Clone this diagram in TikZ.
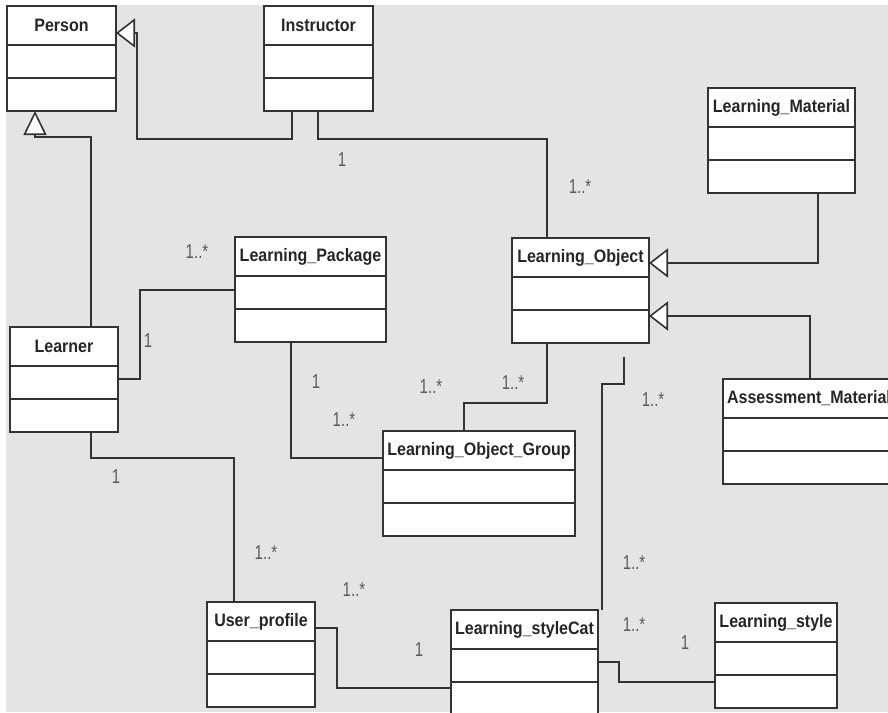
\documentclass[tikz,border=0pt]{standalone}
\usepackage{fontspec}
\setmainfont{Liberation Sans}
\newfontfamily\namefont[FakeStretch=0.89]{Liberation Sans}
\newfontfamily\multfont[FakeStretch=0.75]{Liberation Sans}
\usetikzlibrary{arrows.meta,calc}
\definecolor{bggray}{HTML}{E4E4E4}
\definecolor{umlline}{HTML}{333333}
\definecolor{multgray}{HTML}{5A5A5A}
\tikzset{
  classbox/.style={draw=umlline, fill=white, line width=1.6pt, minimum height=105pt, inner sep=0pt, outer sep=0pt},
  classname/.style={font=\namefont\fontsize{18}{18}\selectfont\bfseries, text=black!85, inner sep=0pt},
  classline/.style={draw=umlline, line width=1.6pt},
  assoc/.style={draw=umlline, line width=1.6pt},
  genh/.style={assoc, -{Triangle[length=19pt, width=29pt, fill=white]}},
  genv/.style={assoc, -{Triangle[length=24pt, width=23pt, fill=white]}},
  mult/.style={font=\multfont\fontsize{20}{20}\selectfont, text=multgray, inner sep=0pt}
}
\newcommand{\umlclass}[5]{%
  \node[classbox, minimum width=#4pt, anchor=north west] (#1) at (#2,#3) {};
  \node[classname] (#1name) at ($(#1.north)+(0,19.5)$) {#5};
  \draw[classline] ($(#1.north west)+(0,39)$) -- ($(#1.north east)+(0,39)$);
  \draw[classline] ($(#1.north west)+(0,72)$) -- ($(#1.north east)+(0,72)$);
}
\begin{document}
\begin{tikzpicture}[x=1pt, y=-1pt]
  \useasboundingbox (0,0) rectangle (888,712);
  \fill[white] (0,0) rectangle (888,712);
  \fill[bggray] (6,5) rectangle (888,712);
  \clip (0,0) rectangle (888,712);

  \umlclass{person}{7}{6}{109}{Person}
  \umlclass{instructor}{264}{6}{109}{Instructor}
  \umlclass{lmaterial}{708}{88}{147}{Learning\_Material}
  \umlclass{lobject}{512}{238}{137}{Learning\_Object}
  \umlclass{lpackage}{235}{237}{151}{Learning\_Package}
  \umlclass{learner}{10}{327}{108}{Learner}
  \umlclass{amaterial}{723}{379}{172}{Assessment\_Material}
  \umlclass{logroup}{383}{431}{192}{Learning\_Object\_Group}
  \umlclass{uprofile}{207}{602}{108}{User\_profile}
  \umlclass{lstylecat}{451}{610}{147}{Learning\_styleCat}
  \umlclass{lstyle}{715}{603}{122}{Learning\_style}

  \coordinate (lofree) at (624,357);

  \draw[genh] (instructor.south -| 292,0) |- (137,139) |- (person.east |- 0,33);
  \draw[genv] (learner.north -| 91,0) |- (35,137) -- (person.south -| 35,0);
  \draw[assoc] (instructor.south -| 318,0) |- (547,139) -- (lobject.north -| 547,0);
  \draw[genh] (lmaterial.south -| 818,0) |- (lobject.east |- 0,263);
  \draw[genh] (amaterial.north -| 810,0) |- (lobject.east |- 0,316);
  \draw[assoc] (lobject.south -| 547,0) |- (464,403) -- (logroup.north -| 464,0);
  \draw[assoc] (lpackage.south -| 291,0) |- (logroup.west |- 0,458);
  \draw[assoc] (learner.east |- 0,379) -| (140,290) -- (lpackage.west |- 0,290);
  \draw[assoc] (learner.south -| 91,0) |- (234,458) -- (uprofile.north -| 234,0);
  \draw[assoc] (uprofile.east |- 0,628) -| (337,688) -- (lstylecat.west |- 0,688);
  \draw[assoc] (lofree) |- (602,384) -- (lstylecat.north east -| 602,0);
  \draw[assoc] (lstylecat.east |- 0,662) -| (619,682) -- (lstyle.west |- 0,682);

  \node[mult] (instrone) at (342,160) {1};
  \node[mult] (instrmany) at (580,187) {1..*};
  \node[mult] (lpmany) at (197,252) {1..*};
  \node[mult] (lpone) at (148,341) {1};
  \node[mult] (logone) at (316,382) {1};
  \node[mult] (logmanya) at (344,420) {1..*};
  \node[mult] (logmanyb) at (431,387) {1..*};
  \node[mult] (logmanyc) at (513,383) {1..*};
  \node[mult] (lomany) at (653,400) {1..*};
  \node[mult] (learnerone) at (116,477) {1};
  \node[mult] (upmanya) at (266,553) {1..*};
  \node[mult] (upmanyb) at (354,590) {1..*};
  \node[mult] (upone) at (419,650) {1};
  \node[mult] (lscmanya) at (634,563) {1..*};
  \node[mult] (lscmanyb) at (634,625) {1..*};
  \node[mult] (lsone) at (685,643) {1};
\end{tikzpicture}
\end{document}
